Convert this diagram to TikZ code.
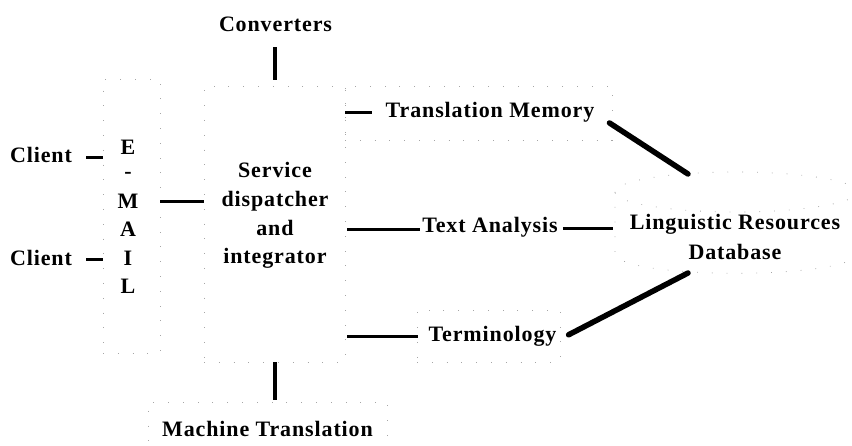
\documentclass[tikz,border=0pt]{standalone}
\usepackage{fontspec}
\newfontfamily\lblfont{Liberation Serif}[LetterSpace=4]
\begin{document}
\begin{tikzpicture}[x=1pt,y=-1pt,
  lbl/.style={font=\lblfont\bfseries\fontsize{22}{28}\selectfont, inner sep=0pt, anchor=base},
  conn/.style={line width=3pt},
  vconn/.style={line width=4pt},
  diag/.style={line width=5.5pt, line cap=round},
  faint/.style={draw=black!35, line width=0.8pt, dash pattern=on 0.8pt off 14pt},
  fbox/.style={faint, inner sep=0pt, rectangle}]
\useasboundingbox (0,0) rectangle (852,446);

% faint dotted frames
\node[fbox, minimum width=57pt, minimum height=274pt] (emailbox) at (131.5,216) {};
\node[fbox, minimum width=141pt, minimum height=276pt] (svcbox) at (274.5,224) {};
\node[fbox, minimum width=267pt, minimum height=54pt] (tmbox) at (478.5,113) {};
\node[fbox, minimum width=143pt, minimum height=52pt] (termbox) at (488.5,336) {};
\node[fbox, minimum width=239pt, minimum height=46pt] (mtbox) at (267.5,425) {};
% database cylinder (faint)
\draw[faint] (736,192) ellipse [x radius=121pt, y radius=20pt];
\draw[faint] (615,192) -- (615,253) .. controls (615,280) and (857,280) .. (857,253) -- (857,192);
\coordinate (dbtop) at (688,174);
\coordinate (dbbot) at (688,273);
\coordinate (dbwest) at (615,229);

% labels
\node[lbl] (conv) at (275.5,32) {Converters};
\node[lbl] (tm) at (490,118) {Translation Memory};
\node[lbl] (client1) at (41,163) {Client};
\node[lbl] (client2) at (41,266) {Client};
\node[lbl] (e1) at (128,155) {E};
\node[lbl] (e2) at (128,179) {-};
\node[lbl] (e3) at (128,209) {M};
\node[lbl] (e4) at (128,237) {A};
\node[lbl] (e5) at (128,266) {I};
\node[lbl] (e6) at (128,294) {L};
\node[lbl] (s1) at (275,178) {Service};
\node[lbl] (s2) at (275,207) {dispatcher};
\node[lbl] (s3) at (275,235.5) {and};
\node[lbl] (s4) at (275,264) {integrator};
\node[lbl] (ta) at (490,233) {Text Analysis};
\node[lbl] (term) at (492.5,342) {Terminology};
\node[lbl] (lr) at (735,230) {Linguistic Resources};
\node[lbl] (dbt) at (735,260) {Database};
\node[lbl] (mt) at (267.5,436) {Machine Translation};

% connectors
\draw[vconn, shorten <=15pt, shorten >=6pt] (conv.south -| svcbox.north) -- (svcbox.north);
\draw[conn, shorten <=14pt] ([yshift=-2.5pt]client1.east) -- ([yshift=-2.5pt]client1.east -| emailbox.west);
\draw[conn, shorten <=14pt] ([yshift=-1.5pt]client2.east) -- ([yshift=-1.5pt]client2.east -| emailbox.west);
\draw[conn] (emailbox.east |- e3) -- (svcbox.west |- e3);
\draw[conn, line width=3.5pt, shorten >=14pt] (svcbox.east |- tm.west) -- (tm.west);
\draw[diag] ([xshift=15pt]tm.south east) -- (dbtop);
\draw[conn, shorten <=2pt, shorten >=2pt] ([yshift=-2pt]svcbox.east |- ta.west) -- ([yshift=-2pt]ta.west);
\draw[conn, shorten <=5pt, shorten >=2pt] ([yshift=-1pt]ta.east) -- ([yshift=-1pt]ta.east -| dbwest);
\draw[conn, shorten <=2pt, shorten >=10pt] (svcbox.east |- term.west) -- (term.west);
\draw[diag] ([xshift=12pt,yshift=2pt]term.east) -- (dbbot);
\draw[vconn, shorten >=21pt] (svcbox.south) -- (svcbox.south |- mt.north);
\end{tikzpicture}
\end{document}
